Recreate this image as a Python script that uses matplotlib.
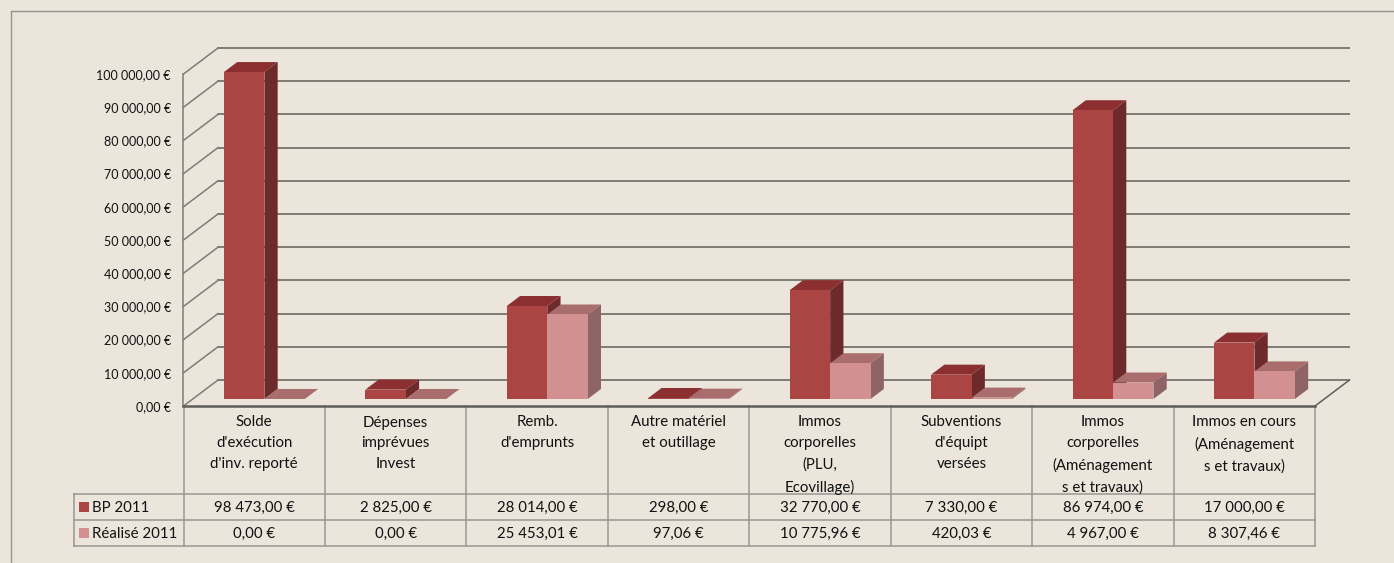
import matplotlib
matplotlib.use('Agg')
import matplotlib.pyplot as plt
from matplotlib.patches import Polygon, Rectangle

W, H = 1394, 563
BG = '#ebe5dc'

categories = ["Solde\nd'exécution\nd'inv. reporté", "Dépenses\nimprévues\nInvest",
              "Remb.\nd'emprunts", "Autre matériel\net outillage",
              "Immos\ncorporelles\n(PLU,\nEcovillage)", "Subventions\nd'équipt\nversées",
              "Immos\ncorporelles\n(Aménagement\ns et travaux)",
              "Immos en cours\n(Aménagement\ns et travaux)"]
bp_2011 = [98473.00, 2825.00, 28014.00, 298.00, 32770.00, 7330.00, 86974.00, 17000.00]
realise_2011 = [0.00, 0.00, 25453.01, 97.06, 10775.96, 420.03, 4967.00, 8307.46]
bp_labels = ['98 473,00 €', '2 825,00 €', '28 014,00 €', '298,00 €',
             '32 770,00 €', '7 330,00 €', '86 974,00 €', '17 000,00 €']
realise_labels = ['0,00 €', '0,00 €', '25 453,01 €', '97,06 €',
                  '10 775,96 €', '420,03 €', '4 967,00 €', '8 307,46 €']
y_ticks = [0, 10000, 20000, 30000, 40000, 50000, 60000, 70000, 80000, 90000, 100000]
y_labels = ['0,00 €', '10 000,00 €', '20 000,00 €', '30 000,00 €', '40 000,00 €', '50 000,00 €',
            '60 000,00 €', '70 000,00 €', '80 000,00 €', '90 000,00 €', '100 000,00 €']

plt.rcParams['font.family'] = ['Lato', 'DejaVu Sans']

# chart area in pixels
LEFT, RIGHT, BOTTOM, TOP = 183.5, 1315, 406, 74
CAT_W = (RIGHT - LEFT) / 8
PX_PER_VAL = (BOTTOM - TOP) / 100000
# oblique offset of the back wall, in data units
DEPTH_X = 34.5 / CAT_W
DEPTH_Y = 26 / PX_PER_VAL
BAR_NEAR, BAR_FAR = 7 / 26, 17 / 26
BAR_OFFSET, BAR_W = 0.286, 0.286

fig = plt.figure(figsize=(W / 100, H / 100), dpi=100, facecolor=BG)

# full figure overlay, pixel coords, for the frame and the data table
bg = fig.add_axes([0, 0, 1, 1], zorder=0)
bg.set_xlim(0, W)
bg.set_ylim(H, 0)
bg.axis('off')
bg.plot([10.5, 10.5, W], [H, 10.5, 10.5], color='#97948e', lw=1.0)

ax = fig.add_axes([LEFT / W, 1 - BOTTOM / H, (RIGHT - LEFT) / W, (BOTTOM - TOP) / H], zorder=1)
ax.patch.set_alpha(0)
ax.set_xlim(0, 8)
ax.set_ylim(0, 100000)
ax.set_xticks([])
ax.set_yticks(y_ticks, y_labels, fontsize=9, color='#111111')
ax.tick_params(axis='y', length=0, pad=9)
for s in ['top', 'right']:
    ax.spines[s].set_visible(False)
ax.spines['left'].set_color('#7f7c76')
ax.spines['left'].set_linewidth(1.1)
ax.spines['bottom'].set_color('#5f5d59')
ax.spines['bottom'].set_linewidth(1.8)

# back wall gridlines and the left wall diagonals
for t in y_ticks:
    ax.plot([0, DEPTH_X], [t, t + DEPTH_Y], color='#7f7c76', lw=1.1, clip_on=False, zorder=1)
    ax.plot([DEPTH_X, 8 + DEPTH_X], [t + DEPTH_Y, t + DEPTH_Y], color='#7f7c76', lw=1.4,
            clip_on=False, zorder=1)
ax.plot([8, 8 + DEPTH_X], [0, DEPTH_Y], color='#5f5d59', lw=1.1, clip_on=False, zorder=1)


def bar3d(x, value, front, top, side):
    x0 = x + BAR_NEAR * DEPTH_X
    x1 = x0 + BAR_W
    y0 = BAR_NEAR * DEPTH_Y
    y1 = y0 + value
    dx = (BAR_FAR - BAR_NEAR) * DEPTH_X
    dy = (BAR_FAR - BAR_NEAR) * DEPTH_Y
    ax.add_patch(Polygon([(x1, y0), (x1 + dx, y0 + dy), (x1 + dx, y1 + dy), (x1, y1)],
                         fc=side, ec='none', clip_on=False, zorder=2))
    ax.add_patch(Polygon([(x0, y1), (x0 + dx, y1 + dy), (x1 + dx, y1 + dy), (x1, y1)],
                         fc=top, ec='none', clip_on=False, zorder=2))
    ax.add_patch(Polygon([(x0, y0), (x1, y0), (x1, y1), (x0, y1)],
                         fc=front, ec='none', clip_on=False, zorder=2))


for i in range(8):
    x = i + BAR_OFFSET - BAR_NEAR * DEPTH_X
    bar3d(x, bp_2011[i], '#ab4543', '#8b2f30', '#6d2a2a')
    bar3d(x + BAR_W, realise_2011[i], '#d39090', '#a96d6e', '#8f6466')

# data table under the chart
ROW_TOP, ROW_1, ROW_2, ROW_3 = 406, 494, 520, 546
LEGEND_X = 73.5
TABLE_C = '#9a9893'
TXT = '#111111'
FS = 10.8
for i in range(9):
    xp = LEFT + i * CAT_W
    bg.plot([xp, xp], [ROW_TOP, ROW_3], color=TABLE_C, lw=1.1, zorder=1)
for yp in [ROW_1, ROW_2, ROW_3]:
    bg.plot([LEGEND_X, RIGHT], [yp, yp], color=TABLE_C, lw=1.1, zorder=1)
bg.plot([LEGEND_X, LEGEND_X], [ROW_1, ROW_3], color=TABLE_C, lw=1.1, zorder=1)

for i in range(8):
    xc = LEFT + (i + 0.5) * CAT_W
    bg.text(xc, 415.5, categories[i], ha='center', va='top', fontsize=FS, color=TXT, linespacing=1.63)
    bg.text(xc, (ROW_1 + ROW_2) / 2 + 0.5, bp_labels[i], ha='center', va='center', fontsize=FS, color=TXT)
    bg.text(xc, (ROW_2 + ROW_3) / 2 + 0.5, realise_labels[i], ha='center', va='center', fontsize=FS, color=TXT)

bg.add_patch(Rectangle((79, 502), 10, 10, fc='#ab4543', ec='none'))
bg.add_patch(Rectangle((79, 528), 10, 10, fc='#d39090', ec='none'))
bg.text(92.5, (ROW_1 + ROW_2) / 2 + 0.5, 'BP 2011', ha='left', va='center', fontsize=FS, color=TXT)
bg.text(92.5, (ROW_2 + ROW_3) / 2 + 0.5, 'Réalisé 2011', ha='left', va='center', fontsize=FS, color=TXT)

fig.savefig('out.png', dpi=100, facecolor=BG)
